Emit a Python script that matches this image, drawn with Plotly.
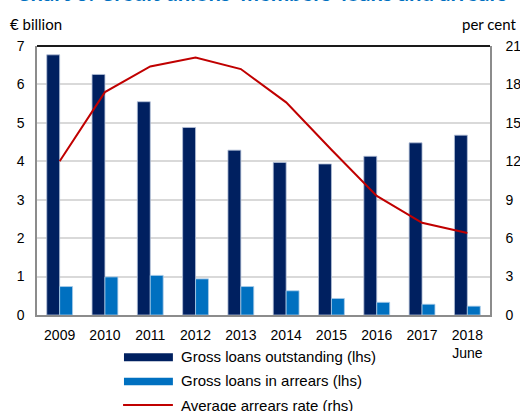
import plotly.graph_objects as go

categories = ["2009", "2010", "2011", "2012", "2013", "2014", "2015", "2016", "2017", "2018<br>June"]
loans_outstanding = [6.77, 6.26, 5.55, 4.88, 4.29, 3.97, 3.93, 4.13, 4.48, 4.68]
loans_in_arrears = [0.74, 0.99, 1.03, 0.94, 0.74, 0.63, 0.43, 0.33, 0.28, 0.23]
arrears_rate = [12.0, 17.4, 19.4, 20.1, 19.2, 16.6, 12.9, 9.3, 7.2, 6.4]
series_names = ["Gross loans outstanding (lhs)", "Gross loans in arrears (lhs)", "Average arrears rate (rhs)"]

DARK = "#002060"
LIGHT = "#0070c0"
RED = "#c00000"
FONT = "Liberation Sans, Arial, sans-serif"

fig = go.Figure()
fig.add_trace(go.Bar(x=categories, y=loans_outstanding, name=series_names[0],
                     marker=dict(color=DARK, line=dict(color="#b4c0d8", width=0.8))))
fig.add_trace(go.Bar(x=categories, y=loans_in_arrears, name=series_names[1],
                     marker=dict(color=LIGHT, line=dict(color="#a9cbe8", width=0.8))))
fig.add_trace(go.Scatter(x=categories, y=arrears_rate, name=series_names[2], yaxis="y2",
                         mode="lines", line=dict(color=RED, width=2)))

fig.update_layout(
    width=520, height=411,
    margin=dict(l=37, r=30, t=46, b=96, autoexpand=False),
    paper_bgcolor="white", plot_bgcolor="white",
    showlegend=False,
    barmode="group", bargap=0.43, bargroupgap=0,
    font=dict(family=FONT, size=14, color="black"),
    xaxis=dict(type="category", showline=True, linecolor="#8c8c8c", linewidth=2,
               mirror=False, ticks="", tickfont=dict(size=14), showgrid=False,
               automargin=False, ticklabelstandoff=6),
    yaxis=dict(range=[0, 7], dtick=1, showgrid=True, gridcolor="#d9d9d9", gridwidth=2,
               showline=True, linecolor="#8c8c8c", linewidth=1.5, ticks="",
               tickfont=dict(size=14), zeroline=False, ticklabelstandoff=8,
               automargin=False),
    yaxis2=dict(range=[0, 21], dtick=3, overlaying="y", side="right", showgrid=False,
                showline=True, linecolor="#8c8c8c", linewidth=1.5, ticks="",
                tickfont=dict(size=14), zeroline=False, ticklabelstandoff=11,
                automargin=False),
)

# top border of plot area
fig.add_shape(type="line", xref="paper", yref="paper", x0=0, x1=1, y0=1, y1=1,
              line=dict(color="#1a1a1a", width=2))

# axis unit labels
fig.add_annotation(text="€ billion", xref="paper", yref="paper", x=-0.064, y=1, yshift=22,
                   xanchor="left", yanchor="middle", showarrow=False,
                   font=dict(family="Lato, sans-serif", size=15, color="black"))
fig.add_annotation(text="per cent", xref="paper", yref="paper", x=1.063, y=1, yshift=22,
                   xanchor="right", yanchor="middle", showarrow=False,
                   font=dict(family="Lato, sans-serif", size=15, color="black"))

# title (clipped at top like the reference)
fig.add_annotation(text="<b>Chart 3: Credit unions' members' loans and arrears</b>",
                   xref="paper", yref="paper", x=-0.05, y=1, yshift=38,
                   xanchor="left", yanchor="bottom", showarrow=False,
                   font=dict(family="Lato, sans-serif", size=22, color=LIGHT))

# manual legend
leg_x0, leg_x1, txt_x = 0.192, 0.300, 0.3135
fig.add_shape(type="rect", xref="paper", yref="paper", x0=leg_x0, x1=leg_x1, y0=-0.172, y1=-0.142,
              fillcolor=DARK, line=dict(width=0))
fig.add_shape(type="rect", xref="paper", yref="paper", x0=leg_x0, x1=leg_x1, y0=-0.261, y1=-0.233,
              fillcolor=LIGHT, line=dict(width=0))
fig.add_shape(type="line", xref="paper", yref="paper", x0=0.190, x1=leg_x1, y0=-0.335, y1=-0.335,
              line=dict(color=RED, width=2))
for name, yy in zip(series_names, [-0.156, -0.245, -0.335]):
    fig.add_annotation(text=name, xref="paper", yref="paper", x=txt_x, y=yy,
                       xanchor="left", yanchor="middle", showarrow=False,
                       font=dict(family=FONT, size=15, color="black"))

fig.write_html("out.html", config={"displayModeBar": False},
               post_script="document.body.style.margin='0';")
